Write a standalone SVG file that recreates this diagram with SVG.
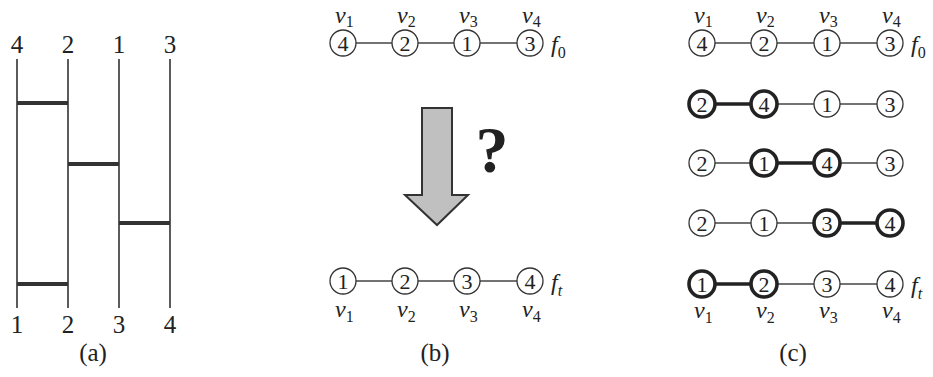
<svg xmlns="http://www.w3.org/2000/svg" width="933" height="377" viewBox="0 0 933 377" font-family="Liberation Serif, Times New Roman, serif">
<style>
text{font-family:"Liberation Serif","Times New Roman",serif;fill:#222}
.num{font-size:25px;text-anchor:middle}
.cap{font-size:25px;text-anchor:middle}
.d{font-size:22px;text-anchor:middle}
.v{font-size:24px;font-style:italic}
.sub{font-size:16px;font-style:normal}
.sub.i{font-style:italic}
.vl{stroke:#333;stroke-width:1.6}
.rung{stroke:#333;stroke-width:4}
.n circle{fill:#fff;stroke:#333;stroke-width:1.3}
.n.b circle{stroke:#222;stroke-width:3.6}
.e{stroke:#444;stroke-width:1.3}
.e.b{stroke:#222;stroke-width:3.6}
</style>
<g id="panel-a">
<line class="vl" x1="17" y1="59" x2="17" y2="308"/>
<line class="vl" x1="68" y1="59" x2="68" y2="308"/>
<line class="vl" x1="119" y1="59" x2="119" y2="308"/>
<line class="vl" x1="170" y1="59" x2="170" y2="308"/>
<line class="rung" x1="17" y1="103" x2="68" y2="103"/>
<line class="rung" x1="68" y1="164" x2="119" y2="164"/>
<line class="rung" x1="119" y1="223" x2="170" y2="223"/>
<line class="rung" x1="17" y1="284" x2="68" y2="284"/>
<text class="num" x="17" y="53">4</text>
<text class="num" x="68" y="53">2</text>
<text class="num" x="119" y="53">1</text>
<text class="num" x="170" y="53">3</text>
<text class="num" x="17" y="333">1</text>
<text class="num" x="68" y="333">2</text>
<text class="num" x="119" y="333">3</text>
<text class="num" x="170" y="333">4</text>
<text class="cap" x="93" y="361">(a)</text>
</g>
<g id="connectors">
<line class="e" x1="343" y1="43" x2="530" y2="43"/>
<line class="e" x1="343" y1="281" x2="530" y2="281"/>
<line class="e" x1="702" y1="43" x2="890" y2="43"/>
<line class="e b" x1="702" y1="104" x2="764" y2="104"/>
<line class="e" x1="764" y1="104" x2="890" y2="104"/>
<line class="e" x1="702" y1="163" x2="764" y2="163"/>
<line class="e b" x1="764" y1="163" x2="827" y2="163"/>
<line class="e" x1="827" y1="163" x2="890" y2="163"/>
<line class="e" x1="702" y1="223" x2="827" y2="223"/>
<line class="e b" x1="827" y1="223" x2="890" y2="223"/>
<line class="e b" x1="702" y1="284" x2="764" y2="284"/>
<line class="e" x1="764" y1="284" x2="890" y2="284"/>
</g>
<g id="panel-b">
<text class="v" x="335" y="23">v<tspan class="sub" dy="4">1</tspan></text>
<text class="v" x="397" y="23">v<tspan class="sub" dy="4">2</tspan></text>
<text class="v" x="459" y="23">v<tspan class="sub" dy="4">3</tspan></text>
<text class="v" x="522" y="23">v<tspan class="sub" dy="4">4</tspan></text>
<g id="b0-1" class="n"><circle cx="343" cy="43" r="13"/><text class="d" x="343" y="51">4</text></g>
<g id="b0-2" class="n"><circle cx="405" cy="43" r="13"/><text class="d" x="405" y="51">2</text></g>
<g id="b0-3" class="n"><circle cx="467" cy="43" r="13"/><text class="d" x="467" y="51">1</text></g>
<g id="b0-4" class="n"><circle cx="530" cy="43" r="13"/><text class="d" x="530" y="51">3</text></g>
<text class="v" x="551" y="52">f<tspan class="sub" dy="6">0</tspan></text>
<path d="M422,108 H452 V195 H468 L437,225 L405,195 H422 Z" fill="#c0c0c0" stroke="#333" stroke-width="2"/>
<text x="492" y="172" style="font-size:66px;font-weight:bold;text-anchor:middle">?</text>
<g id="bt-1" class="n"><circle cx="343" cy="281" r="13"/><text class="d" x="343" y="289">1</text></g>
<g id="bt-2" class="n"><circle cx="405" cy="281" r="13"/><text class="d" x="405" y="289">2</text></g>
<g id="bt-3" class="n"><circle cx="467" cy="281" r="13"/><text class="d" x="467" y="289">3</text></g>
<g id="bt-4" class="n"><circle cx="530" cy="281" r="13"/><text class="d" x="530" y="289">4</text></g>
<text class="v" x="551" y="290">f<tspan class="sub i" dy="6">t</tspan></text>
<text class="v" x="335" y="317">v<tspan class="sub" dy="5">1</tspan></text>
<text class="v" x="397" y="317">v<tspan class="sub" dy="5">2</tspan></text>
<text class="v" x="459" y="317">v<tspan class="sub" dy="5">3</tspan></text>
<text class="v" x="522" y="317">v<tspan class="sub" dy="5">4</tspan></text>
<text class="cap" x="435" y="361">(b)</text>
</g>
<g id="panel-c">
<text class="v" x="694" y="23">v<tspan class="sub" dy="4">1</tspan></text>
<text class="v" x="756" y="23">v<tspan class="sub" dy="4">2</tspan></text>
<text class="v" x="819" y="23">v<tspan class="sub" dy="4">3</tspan></text>
<text class="v" x="882" y="23">v<tspan class="sub" dy="4">4</tspan></text>
<g id="c0-1" class="n"><circle cx="702" cy="43" r="13"/><text class="d" x="702" y="51">4</text></g>
<g id="c0-2" class="n"><circle cx="764" cy="43" r="13"/><text class="d" x="764" y="51">2</text></g>
<g id="c0-3" class="n"><circle cx="827" cy="43" r="13"/><text class="d" x="827" y="51">1</text></g>
<g id="c0-4" class="n"><circle cx="890" cy="43" r="13"/><text class="d" x="890" y="51">3</text></g>
<text class="v" x="911" y="52">f<tspan class="sub" dy="6">0</tspan></text>
<g id="c1-1" class="n b"><circle cx="702" cy="104" r="13"/><text class="d" x="702" y="112">2</text></g>
<g id="c1-2" class="n b"><circle cx="764" cy="104" r="13"/><text class="d" x="764" y="112">4</text></g>
<g id="c1-3" class="n"><circle cx="827" cy="104" r="13"/><text class="d" x="827" y="112">1</text></g>
<g id="c1-4" class="n"><circle cx="890" cy="104" r="13"/><text class="d" x="890" y="112">3</text></g>
<g id="c2-1" class="n"><circle cx="702" cy="163" r="13"/><text class="d" x="702" y="171">2</text></g>
<g id="c2-2" class="n b"><circle cx="764" cy="163" r="13"/><text class="d" x="764" y="171">1</text></g>
<g id="c2-3" class="n b"><circle cx="827" cy="163" r="13"/><text class="d" x="827" y="171">4</text></g>
<g id="c2-4" class="n"><circle cx="890" cy="163" r="13"/><text class="d" x="890" y="171">3</text></g>
<g id="c3-1" class="n"><circle cx="702" cy="223" r="13"/><text class="d" x="702" y="231">2</text></g>
<g id="c3-2" class="n"><circle cx="764" cy="223" r="13"/><text class="d" x="764" y="231">1</text></g>
<g id="c3-3" class="n b"><circle cx="827" cy="223" r="13"/><text class="d" x="827" y="231">3</text></g>
<g id="c3-4" class="n b"><circle cx="890" cy="223" r="13"/><text class="d" x="890" y="231">4</text></g>
<g id="c4-1" class="n b"><circle cx="702" cy="284" r="13"/><text class="d" x="702" y="292">1</text></g>
<g id="c4-2" class="n b"><circle cx="764" cy="284" r="13"/><text class="d" x="764" y="292">2</text></g>
<g id="c4-3" class="n"><circle cx="827" cy="284" r="13"/><text class="d" x="827" y="292">3</text></g>
<g id="c4-4" class="n"><circle cx="890" cy="284" r="13"/><text class="d" x="890" y="292">4</text></g>
<text class="v" x="911" y="293">f<tspan class="sub i" dy="6">t</tspan></text>
<text class="v" x="694" y="318">v<tspan class="sub" dy="5">1</tspan></text>
<text class="v" x="756" y="318">v<tspan class="sub" dy="5">2</tspan></text>
<text class="v" x="819" y="318">v<tspan class="sub" dy="5">3</tspan></text>
<text class="v" x="882" y="318">v<tspan class="sub" dy="5">4</tspan></text>
<text class="cap" x="793" y="361">(c)</text>
</g>
</svg>
